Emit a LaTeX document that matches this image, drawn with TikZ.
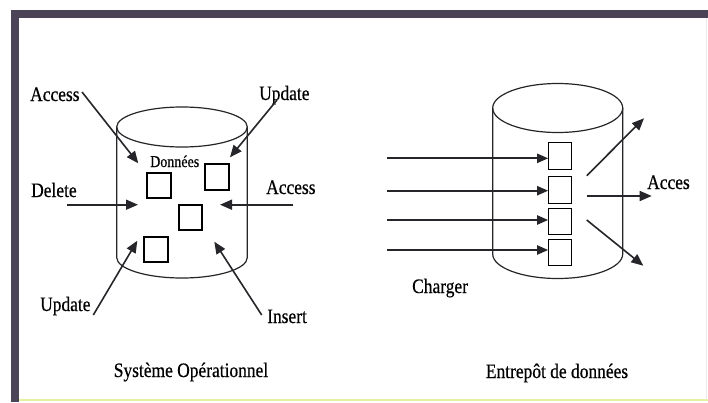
\documentclass[tikz,border=0pt]{standalone}
\usepackage{fontspec}
\setmainfont{Liberation Serif}[FakeStretch=0.85, FakeBold=0.5]
\usetikzlibrary{arrows.meta}
\definecolor{framecol}{HTML}{4B4456}
\definecolor{ink}{HTML}{26262A}
\definecolor{edgeyellow}{HTML}{E6F0A0}
\tikzset{
  label/.style={inner sep=0pt, font=\fontsize{20.5}{23}\selectfont, text=black},
  smalllabel/.style={inner sep=0pt, font=\fontsize{16.5}{18}\selectfont, text=black},
  cyl/.style={draw=ink, line width=1.2pt},
  cell/.style={draw=black, line width=1.2pt},
  flow/.style={draw=ink, line width=1.6pt, -{Triangle[length=12pt,width=10pt]}},
  load/.style={draw=ink, line width=2pt, -{Triangle[length=11pt,width=9pt]}}
}
\begin{document}
\begin{tikzpicture}[x=1pt,y=-1pt]
\useasboundingbox (0,0) rectangle (708,402);
\fill[white] (0,0) rectangle (708,402);

% frame
\fill[framecol] (11,10) rectangle (19,402);
\fill[framecol] (11,10) rectangle (708,18);
\draw[edgeyellow, line width=1.5pt] (19,400) -- (708,400);
\draw[black!8, line width=1pt] (706,18) -- (706,400);

% ---------- operational system cylinder ----------
\draw[cyl] (182,127) ellipse [x radius=65.3, y radius=20];
\draw[cyl] (116.7,127) -- (116.7,257.5) arc[start angle=180, end angle=0, x radius=65.3, y radius=20.5] -- (247.3,127);

\node[smalllabel, anchor=base west] (donnees) at (150,167) {Données};
\draw[cell] (147,173) rectangle (171,198);
\draw[cell] (205,164) rectangle (229,190);
\draw[cell] (179,205) rectangle (202,230);
\draw[cell] (144,237) rectangle (168,262);

\node[label, anchor=base west] (accTL) at (30,101) {Access};
\node[label, anchor=base west] (updTR) at (259,100) {Update};
\node[label, anchor=base west] (del) at (31,197) {Delete};
\node[label, anchor=base west] (accR) at (266,194) {Access};
\node[label, anchor=base west] (updBL) at (40,311) {Update};
\node[label, anchor=base west] (ins) at (267,323) {Insert};
\node[label, anchor=base] (sysop) at (191,377) {Système Opérationnel};

\coordinate (a1s) at (82,92);   \coordinate (a1e) at (138.3,163.3);
\coordinate (a2s) at (277,100); \coordinate (a2e) at (230,157.3);
\coordinate (a3s) at (67,204.7);  \coordinate (a3e) at (138,204.7);
\coordinate (a4s) at (293.3,204.7); \coordinate (a4e) at (220,204.7);
\coordinate (a5s) at (93.3,315); \coordinate (a5e) at (137.3,240.7);
\coordinate (a6s) at (261.7,315); \coordinate (a6e) at (214.3,241.7);

\draw[flow] (a1s) -- (a1e);
\draw[flow] (a2s) -- (a2e);
\draw[flow] (a3s) -- (a3e);
\draw[flow] (a4s) -- (a4e);
\draw[flow] (a5s) -- (a5e);
\draw[flow] (a6s) -- (a6e);

% ---------- data warehouse cylinder ----------
\draw[cyl] (557.7,108) ellipse [x radius=65, y radius=24.5];
\draw[cyl] (492.7,108) -- (492.7,254) arc[start angle=180, end angle=0, x radius=65, y radius=24.5] -- (622.7,108);

\node[cell, minimum width=23pt, minimum height=27pt, inner sep=0pt] (c1) at (560.3,156.3) {};
\node[cell, minimum width=23pt, minimum height=27pt, inner sep=0pt] (c2) at (560.3,189.7) {};
\node[cell, minimum width=23pt, minimum height=26pt, inner sep=0pt] (c3) at (560.3,221.2) {};
\node[cell, minimum width=23pt, minimum height=26pt, inner sep=0pt] (c4) at (560.3,252.8) {};

\coordinate (l1) at (387,158.3);
\coordinate (l2) at (387,190.7);
\coordinate (l3) at (387,220);
\coordinate (l4) at (387,250);
\draw[load] (l1) -- (c1.west |- l1);
\draw[load] (l2) -- (c2.west |- l2);
\draw[load] (l3) -- (c3.west |- l3);
\draw[load] (l4) -- (c4.west |- l4);

\coordinate (o1s) at (586.7,175.7); \coordinate (o1e) at (644,118.3);
\coordinate (o2s) at (586.7,196);   \coordinate (o2e) at (651.7,196);
\coordinate (o3s) at (586.7,220);   \coordinate (o3e) at (643.3,265.7);
\draw[flow] (o1s) -- (o1e);
\draw[flow] (o2s) -- (o2e);
\draw[flow] (o3s) -- (o3e);

\node[label, anchor=base west] (acces) at (647,189) {Acces};
\node[label, anchor=base west] (charger) at (412,293) {Charger};
\node[label, anchor=base] (entrepot) at (557,378) {Entrepôt de données};
\end{tikzpicture}
\end{document}
